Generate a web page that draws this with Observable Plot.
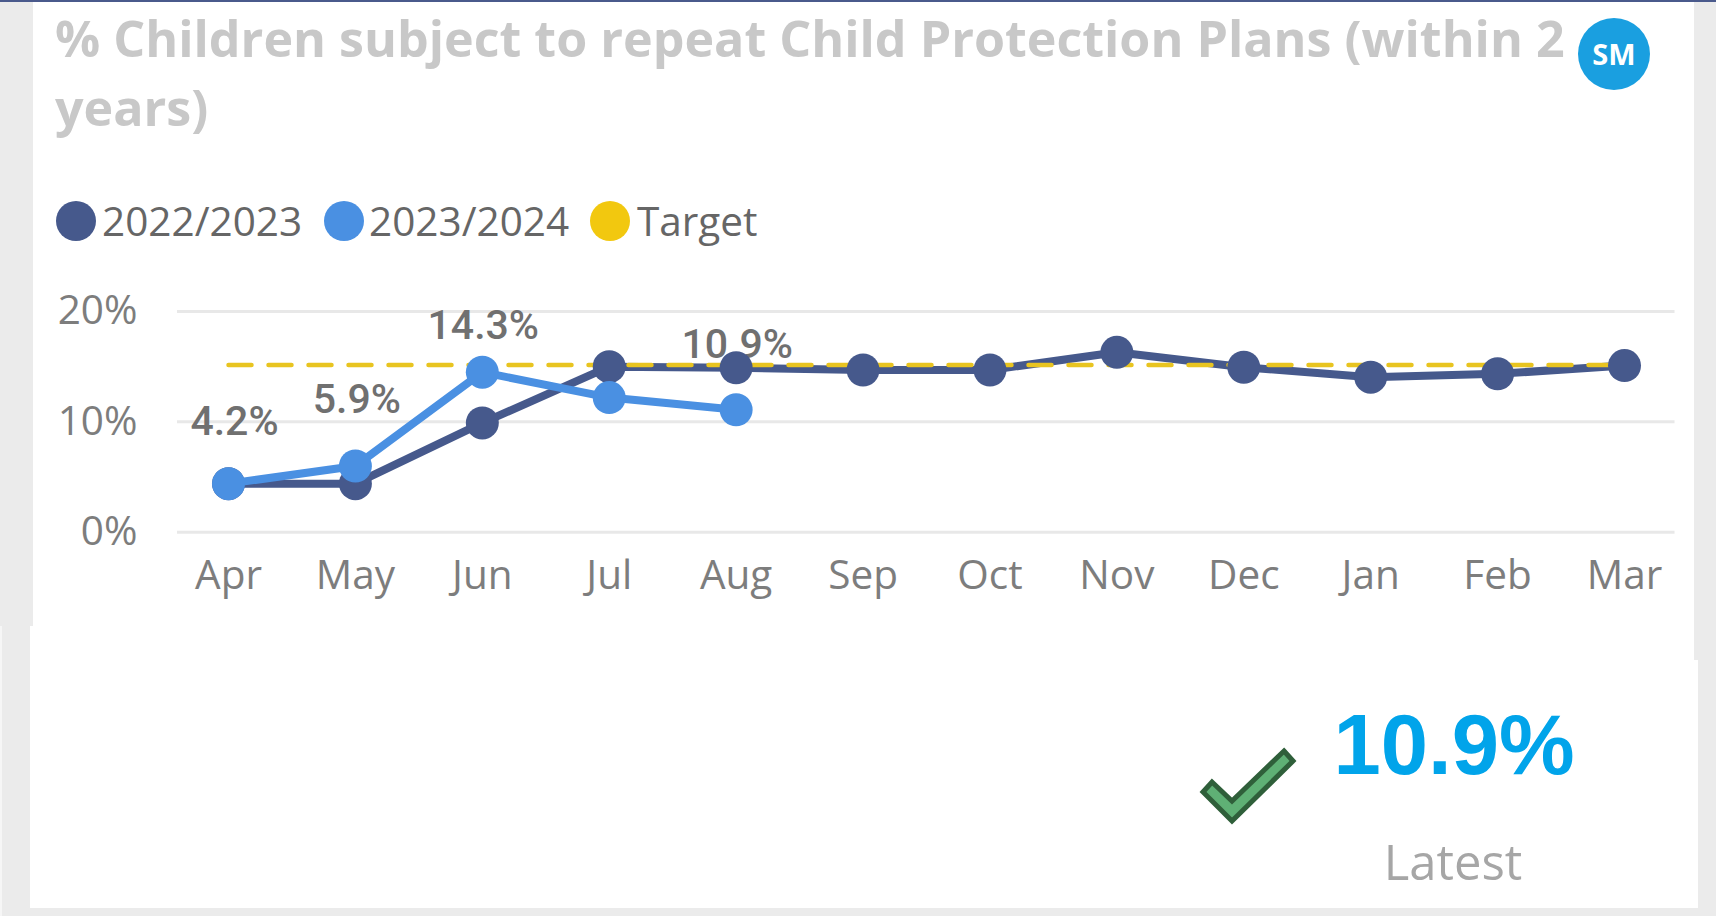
<!DOCTYPE html>
<html><head><meta charset="utf-8">
<script src="https://cdn.jsdelivr.net/npm/d3@7"></script>
<script src="https://cdn.jsdelivr.net/npm/@observablehq/plot@0.6"></script>
<style>
html,body{margin:0;padding:0;background:#ebebeb;overflow:hidden}
#page{position:relative;width:1716px;height:916px;overflow:hidden}
.abs{position:absolute;white-space:nowrap}
#chart{position:absolute;left:0;top:0}
</style></head><body><div id="page">
<div class="abs" style="left:0;top:0;width:1716px;height:2px;background:#4a5a8c"></div>
<div class="abs" style="left:33px;top:2px;width:1661px;height:624px;background:#fff"></div>
<div class="abs" style="left:0;top:626px;width:2px;height:290px;background:#f6f6f6"></div>
<div class="abs" style="left:30px;top:626px;width:1664px;height:282px;background:#fff"></div>
<div class="abs" style="left:1694px;top:660px;width:4px;height:248px;background:#fff"></div>
<div id="chart"></div>
<div class="abs" id="t1" style="left:55px;top:3px;font:700 50.2px 'Open Sans';color:#c8c8c8;line-height:70px">% Children subject to repeat Child Protection Plans (within 2</div>
<div class="abs" id="t2" style="left:55px;top:72px;font:700 50.2px 'Open Sans';color:#c8c8c8;line-height:70px">years)</div>
<div class="abs" style="left:1578px;top:18px;width:72px;height:72px;border-radius:50%;background:#1a9fe0;color:#fff;font:700 29px/72px 'Open Sans';text-align:center">SM</div>
<div id="legend"></div>
<svg class="abs" style="left:0;top:0" width="1716" height="916"><polygon points="1284,751 1293,761 1232,821 1203,792 1212,782 1232,801" fill="#5fb075" stroke="#2f5f3a" stroke-width="5"/></svg>
<div class="abs" style="left:1254px;top:695px;width:400px;text-align:center;font:700 85px/100px 'Liberation Sans';color:#01a4ea">10.9%</div>
<div class="abs" style="left:1253px;top:826px;width:400px;text-align:center;font:400 49px/70px 'Open Sans';color:#a6a6a6">Latest</div>
</div>
<script>
const months = ["Apr","May","Jun","Jul","Aug","Sep","Oct","Nov","Dec","Jan","Feb","Mar"];
const values2223 = [4.4,4.4,9.9,15.0,14.9,14.7,14.7,16.3,14.95,14.05,14.35,15.1];
const values2324 = [4.4,6.0,14.5,12.2,11.1];
const targetValue = 15.15;
const labelMonths = ["Apr","May","Jun","Aug"];
const labelTexts = ["4.2%","5.9%","14.3%","10.9%"];
const labelOffsets = [[6,-49],[1.5,-53],[1,-33],[1,-52]];
const legendNames = ["2022/2023","2023/2024","Target"];
const legendColors = ["#46598c","#4a90e2","#f2c80f"];
const legendDotX = [76,344,610];
const legendTextX = [102,369,637];

const rows = (vals) => vals.map((v,i)=>({m:months[i],v}));
const a = rows(values2223), b = rows(values2324);
const target = months.map(m=>({m,v:targetValue}));
const labels = labelMonths.map((m,i)=>({m,text:labelTexts[i],v:values2324[months.indexOf(m)],off:labelOffsets[i]}));

const plot = Plot.plot({
  width:1716,height:916,
  marginLeft:177,marginRight:41.5,marginTop:311,marginBottom:384.3,
  style:{background:"transparent",overflow:"visible"},
  x:{type:"point",domain:months,range:[228,1624],padding:0,align:0.5,round:false},
  y:{domain:[0,20],range:[531.7,311]},
  marks:[
    Plot.ruleY([0,10,20],{stroke:"#e8e8e8",strokeWidth:3}),
    Plot.axisX({tickSize:0,tickPadding:28,fontSize:40.5,fill:"#7d7d7d",label:null,fontFamily:"Open Sans",fontWeight:400}),
    Plot.axisY({ticks:[0,10,20],tickFormat:d=>d+"%",tickSize:0,tickPadding:40,fontSize:40.5,fill:"#7d7d7d",label:null,fontFamily:"Open Sans",fontWeight:400}),
    ...labels.map(l=>Plot.text([l],{x:"m",y:"v",text:"text",dx:l.off[0],dy:l.off[1],lineAnchor:"bottom",fontSize:41,fontWeight:500,fill:"#707070",fontFamily:"Roboto"})),
    Plot.line(a,{x:"m",y:"v",stroke:legendColors[0],strokeWidth:8}),
    Plot.line(target,{x:"m",y:"v",stroke:"#e8c420",strokeWidth:4.5,strokeDasharray:"23,17"}),
    Plot.dot(a,{x:"m",y:"v",fill:legendColors[0],r:16.5}),
    Plot.line(b,{x:"m",y:"v",stroke:legendColors[1],strokeWidth:8}),
    Plot.dot(b,{x:"m",y:"v",fill:legendColors[1],r:16.5})
  ]
});
document.getElementById("chart").append(plot);

const lg = document.getElementById("legend");
legendNames.forEach((n,i)=>{
  const d=document.createElement("div");d.className="abs";
  d.style.cssText=`left:${legendDotX[i]-20}px;top:201px;width:40px;height:40px;border-radius:50%;background:${legendColors[i]}`;
  lg.append(d);
  const t=document.createElement("div");t.className="abs";
  t.style.cssText=`left:${legendTextX[i]}px;top:191px;font:400 40.5px/60px 'Open Sans';color:#666`;
  t.textContent=n;lg.append(t);
});
</script></body></html>
